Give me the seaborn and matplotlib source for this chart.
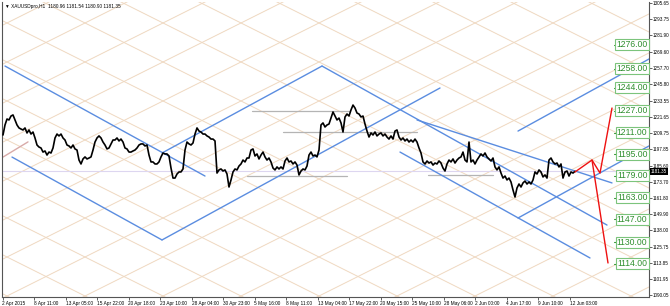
import numpy as np
import matplotlib
matplotlib.use("Agg")
import matplotlib.pyplot as plt
import matplotlib.transforms as mtransforms
import seaborn as sns

# ---------------- data ----------------
close = [1208.2, 1215.6, 1220.0, 1219.3, 1222.2, 1223.0, 1219.3, 1215.6, 1213.4, 1212.6,
         1211.9, 1213.4, 1209.7, 1211.9, 1208.9, 1210.4, 1206.0, 1200.8, 1199.3, 1198.6,
         1195.6, 1196.4, 1193.4, 1195.6, 1194.9, 1198.6, 1206.0, 1208.9, 1207.5, 1208.9,
         1206.0, 1204.5, 1200.8, 1200.1, 1198.6, 1200.8, 1197.9, 1197.1, 1189.7, 1186.8,
         1190.5, 1192.0, 1190.5, 1191.2, 1192.0, 1197.1, 1203.0, 1206.0, 1207.5, 1206.0,
         1203.0, 1200.8, 1197.9, 1198.6, 1201.6, 1204.5, 1204.5, 1206.0, 1203.8, 1205.2,
         1203.0, 1198.6, 1197.9, 1195.6, 1195.6, 1196.4, 1197.1, 1198.6, 1200.8, 1201.6,
         1201.6, 1200.1, 1200.8, 1193.4, 1188.3, 1188.3, 1186.8, 1186.8, 1188.3, 1192.0,
         1194.9, 1194.2, 1194.2, 1192.7, 1183.8, 1176.4, 1176.4, 1179.4, 1180.9, 1180.9,
         1183.1, 1197.1, 1203.0, 1201.6, 1200.8, 1202.3, 1208.9, 1213.4, 1211.1, 1210.4,
         1208.9, 1208.9, 1207.5, 1206.7, 1205.2, 1205.2, 1203.8, 1180.1, 1182.4, 1183.1,
         1181.6, 1182.4, 1179.4, 1169.8, 1175.0, 1180.9, 1183.1, 1182.4, 1185.3, 1186.8,
         1189.7, 1188.3, 1191.2, 1191.2, 1197.1, 1197.9, 1192.7, 1194.2, 1190.5, 1193.4,
         1195.6, 1192.0, 1189.7, 1191.2, 1188.3, 1183.8, 1182.4, 1184.6, 1183.1, 1184.6,
         1183.1, 1189.0, 1191.2, 1188.3, 1189.0, 1186.8, 1188.3, 1186.0, 1178.7, 1181.6,
         1183.1, 1182.4, 1185.3, 1193.4, 1195.6, 1192.7, 1193.4, 1192.0, 1197.1, 1215.6,
         1217.1, 1214.1, 1215.6, 1216.3, 1220.7, 1225.2, 1222.2, 1219.3, 1220.7, 1217.1,
         1210.4, 1221.5, 1223.7, 1222.2, 1226.7, 1230.3, 1228.1, 1224.4, 1223.7, 1221.5,
         1222.2, 1216.3, 1211.1, 1206.7, 1209.7, 1208.2, 1210.4, 1207.5, 1208.9, 1209.7,
         1207.5, 1208.9, 1206.7, 1205.2, 1207.5, 1205.2, 1211.1, 1211.9, 1206.7, 1204.5,
         1206.0, 1203.8, 1205.2, 1203.0, 1204.5, 1203.0, 1205.2, 1203.0, 1198.6, 1194.9,
         1188.3, 1186.8, 1189.0, 1187.5, 1188.3, 1186.0, 1187.5, 1186.8, 1189.0, 1187.5,
         1183.8, 1181.6, 1186.8, 1189.7, 1188.3, 1190.5, 1187.5, 1189.7, 1191.2, 1192.0,
         1195.6, 1189.7, 1188.3, 1203.0, 1188.3, 1189.7, 1186.8, 1189.7, 1192.0, 1194.2,
         1192.7, 1194.9, 1192.0, 1190.5, 1189.0, 1191.2, 1184.6, 1182.4, 1184.6, 1180.1,
         1176.4, 1177.9, 1175.0, 1176.4, 1173.5, 1167.6, 1162.4, 1169.1, 1172.0, 1169.8,
         1172.8, 1174.2, 1172.0, 1173.5, 1172.0, 1175.0, 1180.9, 1179.4, 1182.4, 1180.9,
         1177.2, 1178.7, 1176.4, 1189.7, 1191.2, 1188.3, 1186.8, 1187.5, 1184.6, 1186.8,
         1176.4, 1180.9, 1181.6, 1177.9, 1180.9, 1180.1, 1181.35]
bars_per_point = 4
bars = np.arange(len(close)) * bars_per_point

last_price = 1181.35
header = "\u25bc XAUUSDpro,H1  1180.96 1181.54 1180.90 1181.35"

y_ticks = [1305.65, 1293.75, 1281.90, 1269.60, 1257.70, 1245.80, 1233.55, 1221.65,
           1209.75, 1197.85, 1185.60, 1173.70, 1161.80, 1149.90, 1138.00, 1125.75,
           1113.85, 1101.95, 1090.05]

x_labels = ["2 Apr 2015", "8 Apr 11:00", "13 Apr 05:00", "15 Apr 22:00", "20 Apr 18:00",
            "23 Apr 10:00", "28 Apr 04:00", "30 Apr 23:00", "5 May 16:00", "8 May 11:00",
            "13 May 04:00", "17 May 22:00", "20 May 15:00", "25 May 10:00", "28 May 06:00",
            "2 Jun 00:00", "4 Jun 17:00", "9 Jun 10:00", "12 Jun 03:00"]
x_label_bars = [-1 + 63 * k for k in range(len(x_labels))]

level_labels = [1276.00, 1258.00, 1244.00, 1227.00, 1211.00, 1195.00,
                1179.00, 1163.00, 1147.00, 1130.00, 1114.00]

# channel lines: (bar0, price0, bar1, price1)
blue_lines = [
    (4, 1259.1, 404, 1177.9),
    (18, 1191.9, 318, 1130.7),
    (318, 1194.9, 638, 1259.1),
    (318, 1130.7, 874, 1242.9),
    (638, 1259.1, 1208, 1141.7),
    (794, 1195.6, 1174, 1117.4),
    (828, 1219.3, 1218, 1172.8),
    (1030, 1211.1, 1292, 1264.3),
    (1030, 1146.9, 1292, 1200.1),
]
gray_levels = [(498, 694, 1225.9), (560, 828, 1210.4), (488, 688, 1177.9), (850, 980, 1178.7)]
red_up_bars = [1144, 1178, 1194, 1218]
red_up_prices = [1180.9, 1189.7, 1180.1, 1228.1]
red_down_bars = [1178, 1210]
red_down_prices = [1189.7, 1113.7]
pink_bars = [0, 50]
pink_prices = [1191.9, 1203.1]

# Gann-like grid
grid_bar0, grid_price0, grid_step, grid_slope = 164, 1290.9, 156, 0.1846

# ---------------- figure ----------------
sns.set_style("white")
plt.rcParams['font.family'] = ['Liberation Sans', 'DejaVu Sans']
fig = plt.figure(figsize=(6.7, 3.06), dpi=100)
ax = fig.add_axes([2 / 670, 9 / 306, 647 / 670, 295 / 306])
ax.set_xlim(-2, 1292)
ax.set_ylim(1088.58, 1306.39)

xx = np.array([-400, 1700])
for k in range(-15, 20):
    c = grid_bar0 + grid_step * k
    ax.plot(xx, grid_price0 - grid_slope * (xx - c), color='#efd8c0', lw=0.7, zorder=1)
    ax.plot(xx, grid_price0 + grid_slope * (xx - c), color='#efd8c0', lw=0.7, zorder=1)

ax.plot(pink_bars, pink_prices, color='#d8aaa8', lw=1.0, zorder=2)
ax.axhline(last_price, color='#ddd6f0', lw=0.8, zorder=2)

for b0, b1, p in gray_levels:
    ax.plot([b0, b1], [p, p], color='#b4b4b4', lw=0.9, zorder=2)

for b0, p0, b1, p1 in blue_lines:
    ax.plot([b0, b1], [p0, p1], color='#5b8de0', lw=1.0, zorder=3)

sns.lineplot(x=bars, y=close, ax=ax, color='black', lw=1.2, zorder=4, estimator=None)

ax.plot(red_up_bars, red_up_prices, color='#ee1111', lw=1.0, zorder=5)
ax.plot(red_down_bars, red_down_prices, color='#ee1111', lw=1.0, zorder=5)

for v in level_labels:
    ax.plot([1222, 1230], [v - 1.0, v - 1.0], color='#3a9a3a', lw=0.8, zorder=6)
    ax.text(1289, v - 1.0, f"{v:.2f}", ha='right', va='center', fontsize=6.2,
            color='#2f8f2f', zorder=7,
            bbox=dict(boxstyle='square,pad=0.12', fc='white', ec='#7cc47c', lw=0.8))

ax.text(0.004, 0.993, header, transform=ax.transAxes, ha='left', va='top',
        fontsize=3.4, color='black')

# axes styling
ax.yaxis.tick_right()
ax.set_yticks(y_ticks)
ax.set_yticklabels([f"{v:.2f}" for v in y_ticks], fontsize=3.3)
ax.set_xticks(x_label_bars)
ax.set_xticklabels(x_labels, fontsize=3.4)
for lab in ax.get_xticklabels():
    lab.set_ha('left')
ax.tick_params(axis='both', length=2, width=0.5, pad=0.8, colors='#222222',
               labelcolor='black')
ax.tick_params(axis='y', right=True, left=False)
ax.tick_params(axis='x', bottom=True)
for side in ['left', 'right', 'bottom']:
    ax.spines[side].set_color('#555555')
    ax.spines[side].set_linewidth(0.8)
ax.spines['top'].set_visible(False)

trans = mtransforms.blended_transform_factory(ax.transAxes, ax.transData)
ax.text(1.0025, last_price, f"{last_price:.2f}", transform=trans, ha='left', va='center',
        fontsize=3.3, color='white', zorder=8,
        bbox=dict(boxstyle='square,pad=0.15', fc='black', ec='black', lw=0))

fig.savefig("out.png", dpi=100)
